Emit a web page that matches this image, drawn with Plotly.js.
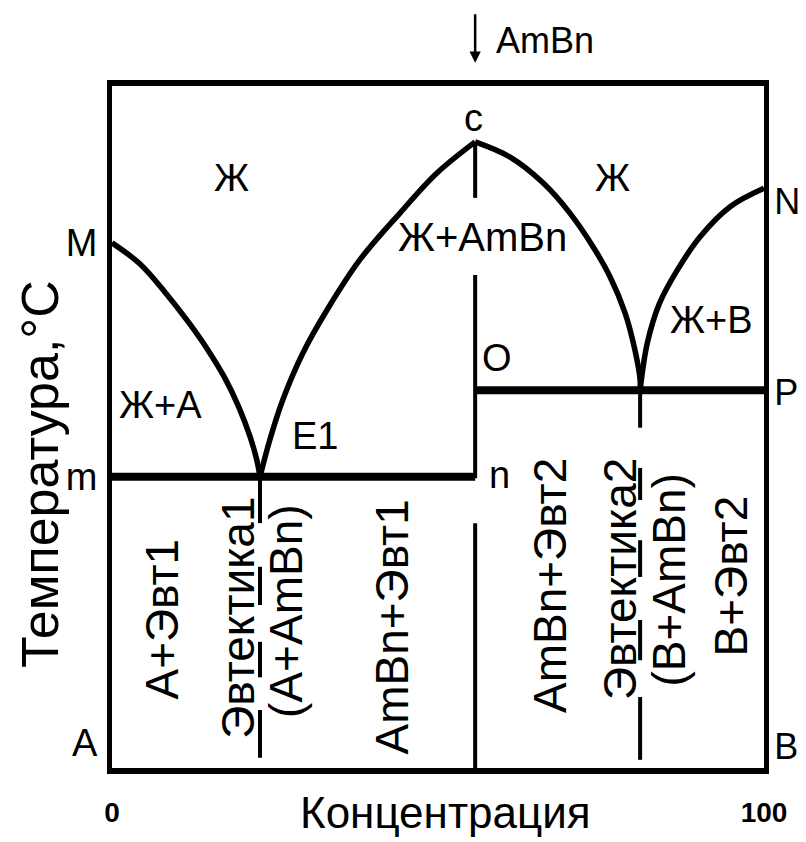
<!DOCTYPE html>
<html>
<head>
<meta charset="utf-8">
<script src="https://cdn.plot.ly/plotly-3.0.1.min.js"></script>
<style>html,body{margin:0;padding:0;background:#fff;}</style>
</head>
<body>
<div id="chart" style="width:806px;height:842px;"></div>
<script>
// ---- Liquidus curves (concentration %, temperature in relative units 0..100) ----
const liqA_x   = [0, 4.3, 8.1, 11.7, 14.7, 17.3, 19.5, 21.2, 22.2, 22.7];
const liqA_y   = [77.0, 73.9, 69.8, 65.4, 61.3, 57.2, 52.8, 48.5, 45.2, 42.7];
const liqC1_x  = [22.7, 24.2, 26.2, 29.3, 33.0, 38.0, 44.2, 49.8, 55.7];
const liqC1_y  = [42.7, 48.1, 54.0, 60.9, 67.2, 74.5, 81.4, 87.2, 91.8];
const liqC2_x  = [55.7, 61.0, 66.1, 70.2, 73.8, 76.4, 78.7, 80.2, 81.0, 81.0];
const liqC2_y  = [91.8, 89.6, 85.8, 81.4, 76.4, 72.0, 66.7, 61.3, 56.9, 55.4];
const liqB_x   = [81.0, 82.1, 84.0, 86.7, 90.2, 94.8, 100];
const liqB_y   = [55.4, 62.3, 68.2, 73.0, 77.9, 82.3, 85.0];

// ---- Eutectic (solidus) horizontals ----
const eut1_x = [0, 55.7];      const eut1_y = [42.7, 42.7];   // m - n
const eut2_x = [55.7, 100];    const eut2_y = [55.4, 55.4];   // O - P

// ---- Vertical lines: compound AmBn and eutectic compositions (segments top/bottom) ----
const compoundX = 55.7;
const compoundSegTop = [91.8, 72.3, 35.9];
const compoundSegBot = [83.6, 42.5, 0];
const e1X = 22.7;
const e1SegTop = [42.8, 29.5, 18.5, 8.5];
const e1SegBot = [35.9, 23.9, 13.3, 1.5];
const e2X = 81.0;
const e2SegTop = [55.4, 44.0, 33.4, 21.7, 10.4];
const e2SegBot = [49.9, 39.3, 28.0, 15.8, 1.2];

// ---- Axis point labels ----
const leftLabelVals  = [77.0, 42.7, 3.7];
const leftLabelText  = ['M', 'm', 'A'];
const rightLabelVals = [83.1, 55.1, 3.2];
const rightLabelText = ['N', 'P', 'B'];
const xTickVals = [0, 100];
const xTickText = ['0', '100'];

// ---- Region labels ----
const hLabels = ['Ж', 'Ж', 'c', 'Ж+AmBn', 'Ж+A', 'E1', 'O', 'n', 'Ж+B'];
const hLabelX = [18.4, 76.8, 55.5, 56.9, 7.4, 31.1, 59.0, 59.4, 92.0];
const hLabelY = [86.5, 86.5, 95.3, 77.9, 53.2, 48.7, 60.1, 43.0, 65.7];
const vLabels = ['A+Эвт1', 'Эвтектика1', '(A+AmBn)', 'AmBn+Эвт1', 'AmBn+Эвт2', 'Эвтектика2', '(B+AmBn)', 'B+Эвт2'];
const vLabelX = [7.7, 19.3, 26.7, 42.9, 67.2, 77.9, 85.4, 94.9];
const vLabelY = [21.8, 22.0, 22.9, 20.7, 26.7, 27.7, 27.6, 28.2];
const compoundLabel = 'AmBn';
const compoundLabelX = 66.4;
const xTitle = 'Концентрация';
const yTitle = 'Температура,°С';

const FONT = 'Liberation Sans, Arial, sans-serif';

function segs(x, tops, bots) {
  const xs = [], ys = [];
  for (let i = 0; i < tops.length; i++) {
    xs.push(x, x, null);
    ys.push(tops[i], bots[i], null);
  }
  return {x: xs, y: ys};
}

const curve = (x, y) => ({x, y, type: 'scatter', mode: 'lines',
  line: {color: '#000', width: 5.5, shape: 'spline', smoothing: 1.0}, hoverinfo: 'skip'});
const straight = (x, y, w) => ({x, y, type: 'scatter', mode: 'lines',
  line: {color: '#000', width: w}, hoverinfo: 'skip', connectgaps: false});

const cs = segs(compoundX, compoundSegTop, compoundSegBot);
const s1 = segs(e1X, e1SegTop, e1SegBot);
const s2 = segs(e2X, e2SegTop, e2SegBot);

const data = [
  straight(cs.x, cs.y, 4),
  straight(s1.x, s1.y, 4),
  straight(s2.x, s2.y, 4),
  straight(eut1_x, eut1_y, 8),
  straight(eut2_x, eut2_y, 8),
  curve(liqA_x, liqA_y),
  curve(liqC1_x, liqC1_y),
  curve(liqC2_x, liqC2_y),
  curve(liqB_x, liqB_y),
  {x: [100], y: [50], yaxis: 'y2', type: 'scatter', mode: 'lines', line: {width: 0}, hoverinfo: 'skip'}
];

const annotations = [];
hLabels.forEach((t, i) => annotations.push({
  x: hLabelX[i], y: hLabelY[i], xref: 'x', yref: 'y', text: t, showarrow: false,
  font: {family: FONT, size: t === 'Ж+AmBn' ? 40 : 38, color: '#000'}
}));
vLabels.forEach((t, i) => annotations.push({
  x: vLabelX[i], y: vLabelY[i], xref: 'x', yref: 'y', text: t, showarrow: false,
  textangle: -90, font: {family: FONT, size: 46, color: '#000'}
}));
annotations.push({x: compoundLabelX, y: 1.099, xref: 'x', yref: 'paper', text: compoundLabel,
  showarrow: false, font: {family: FONT, size: 36, color: '#000'}});
annotations.push({x: compoundX, y: 1.034, xref: 'x', yref: 'paper', text: '', showarrow: true,
  ax: 0, ay: -50, arrowhead: 2, arrowsize: 0.9, arrowwidth: 2.5, arrowcolor: '#000'});
annotations.push({x: 0.511, y: -0.104, xref: 'paper', yref: 'paper', text: xTitle, showarrow: false,
  font: {family: FONT, size: 44, color: '#000'}});
annotations.push({x: -0.158, y: 0.431, xref: 'paper', yref: 'paper', text: yTitle, showarrow: false,
  textangle: -90, font: {family: FONT, size: 52, color: '#000'}});

const layout = {
  width: 806, height: 842,
  margin: {l: 112, r: 42, t: 86, b: 74, pad: 0},
  paper_bgcolor: '#fff', plot_bgcolor: '#fff',
  showlegend: false, hovermode: false,
  xaxis: {range: [0, 100], showgrid: false, zeroline: false, showline: true, mirror: true,
    linecolor: '#000', linewidth: 6, tickvals: xTickVals, ticktext: xTickText,
    ticks: 'outside', ticklen: 14, tickcolor: 'rgba(0,0,0,0)',
    tickfont: {family: FONT, size: 28, color: '#000', weight: 'bold'}},
  yaxis: {range: [0, 100], showgrid: false, zeroline: false, showline: true, mirror: true,
    linecolor: '#000', linewidth: 5, tickvals: leftLabelVals, ticktext: leftLabelText,
    ticks: 'outside', ticklen: 2, tickcolor: 'rgba(0,0,0,0)',
    tickfont: {family: FONT, size: 38, color: '#000'}},
  yaxis2: {range: [0, 100], overlaying: 'y', side: 'right', showgrid: false, zeroline: false,
    showline: false, tickvals: rightLabelVals, ticktext: rightLabelText,
    ticks: 'outside', ticklen: 2, tickcolor: 'rgba(0,0,0,0)',
    tickfont: {family: FONT, size: 36, color: '#000'}},
  annotations
};

Plotly.newPlot('chart', data, layout, {staticPlot: true, displayModeBar: false});
</script>
</body>
</html>
